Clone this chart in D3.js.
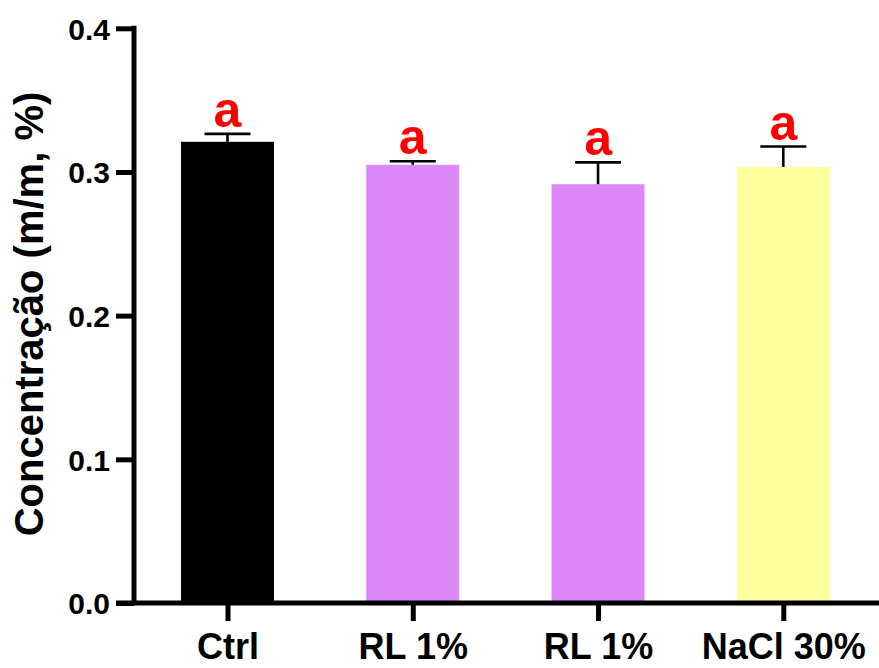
<!DOCTYPE html>
<html>
<head>
<meta charset="utf-8">
<script src="https://cdn.jsdelivr.net/npm/d3@7/dist/d3.min.js"></script>
<style>
body { margin: 0; background: #fff; }
svg { display: block; font-family: Arial, "Liberation Sans", sans-serif; }
</style>
</head>
<body>
<svg id="chart" width="879" height="668"></svg>
<script>
const categories = ["Ctrl", "RL 1%", "RL 1%", "NaCl 30%"];
const means = [0.321, 0.305, 0.2915, 0.3035];
const errors = [0.0055, 0.0025, 0.0152, 0.0142];
const letters = ["a", "a", "a", "a"];
const colors = ["#000000", "#DD88F8", "#DD88F8", "#FFFFA0"];
const yTicks = [0.0, 0.1, 0.2, 0.3, 0.4];
const yTitle = "Concentração (m/m, %)";

const FONT = "Arial, 'Liberation Sans', Helvetica, sans-serif";
const svg = d3.select("#chart");
const idx = categories.map((d, i) => i);

const x = d3.scalePoint().domain(idx).range([227.5, 783.3]);
const y = d3.scaleLinear().domain([0, 0.4]).range([603, 28.3]);
const barW = 93;

// bars
svg.selectAll("rect.bar").data(idx).join("rect")
  .attr("class", "bar")
  .attr("x", i => x(i) - barW / 2)
  .attr("width", barW)
  .attr("y", i => y(means[i]))
  .attr("height", i => y(0) - y(means[i]))
  .attr("fill", i => colors[i]);

// error bars (upper only)
const capW = 46;
svg.selectAll("line.err").data(idx).join("line")
  .attr("class", "err")
  .attr("x1", i => x(i)).attr("x2", i => x(i))
  .attr("y1", i => y(means[i])).attr("y2", i => y(means[i] + errors[i]))
  .attr("stroke", "#000").attr("stroke-width", 2.6);
svg.selectAll("line.cap").data(idx).join("line")
  .attr("class", "cap")
  .attr("x1", i => x(i) - capW / 2).attr("x2", i => x(i) + capW / 2)
  .attr("y1", i => y(means[i] + errors[i])).attr("y2", i => y(means[i] + errors[i]))
  .attr("stroke", "#000").attr("stroke-width", 2.6);

// letters
svg.selectAll("text.sig").data(idx).join("text")
  .attr("class", "sig")
  .attr("x", i => x(i))
  .attr("y", i => y(means[i] + errors[i]) - 7)
  .attr("text-anchor", "middle")
  .attr("font-family", FONT)
  .attr("font-size", 50)
  .attr("font-weight", "bold")
  .attr("fill", "#FF0000")
  .text(i => letters[i]);

// y axis
const yAxis = d3.axisLeft(y).tickValues(yTicks).tickFormat(d3.format(".1f")).tickSize(18).tickPadding(6);
const gy = svg.append("g").attr("transform", "translate(134,0)").call(yAxis);
gy.select(".domain").attr("d", `M0,${y(0.4) - 2.5}V${y(0)}`).attr("stroke-width", 5).attr("stroke", "#000");
gy.selectAll(".tick line").attr("stroke-width", 5).attr("stroke", "#000");
gy.selectAll(".tick text").attr("font-size", 30).attr("font-weight", "bold").attr("fill", "#000")
  .attr("font-family", FONT).attr("dy", "0.36em");

// x axis
const xAxis = d3.axisBottom(x).tickFormat(i => categories[i]).tickSize(18);
const gx = svg.append("g").attr("transform", `translate(0,${y(0)})`).call(xAxis);
gx.select(".domain").attr("d", "M116,0H879").attr("stroke-width", 5).attr("stroke", "#000");
gx.selectAll(".tick line").attr("stroke-width", 5).attr("stroke", "#000");
gx.selectAll(".tick text").attr("font-size", 36).attr("font-weight", "bold").attr("fill", "#000")
  .attr("font-family", FONT).attr("y", 56).attr("dy", "0");

// y title
svg.append("text")
  .attr("transform", "translate(43,314) rotate(-90)")
  .attr("text-anchor", "middle")
  .attr("font-family", FONT)
  .attr("font-size", 40)
  .attr("font-weight", "bold")
  .attr("fill", "#000")
  .text(yTitle);
</script>
</body>
</html>
